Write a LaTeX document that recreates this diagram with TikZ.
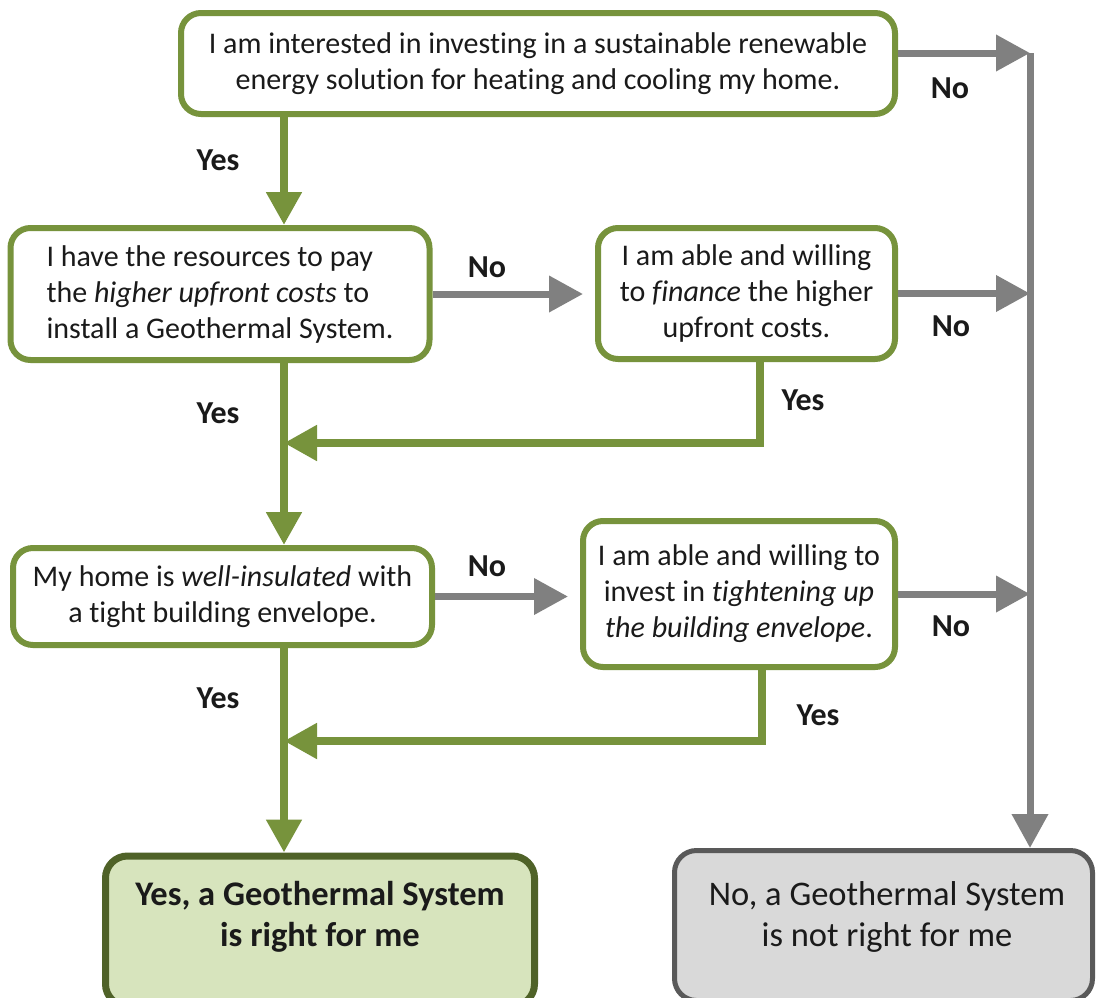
\documentclass[tikz,border=0pt]{standalone}
\usepackage{fontspec}
\setmainfont{Carlito}[Ligatures=NoCommon]
\usetikzlibrary{arrows.meta,calc}
\definecolor{lgreen}{HTML}{77933C}
\definecolor{dgreen}{HTML}{4F6228}
\definecolor{lfill}{HTML}{D7E4BD}
\definecolor{agray}{HTML}{808080}
\definecolor{bgray}{HTML}{595959}
\definecolor{gfill}{HTML}{D9D9D9}
\definecolor{txt}{HTML}{1A1A1A}
\begin{document}
\begin{tikzpicture}[x=1pt,y=-1pt,
  gbox/.style={draw=lgreen, line width=6pt, rounded corners=20pt, fill=white, inner sep=0pt, text=txt, font=\fontsize{30}{36}\selectfont},
  garrow/.style={draw=lgreen, line width=8pt, -{Triangle[length=33pt,width=34pt]}},
  grarrow/.style={draw=agray, line width=7pt, -{Triangle[length=34pt,width=35pt]}},
  lab/.style={font=\fontsize{32}{36}\selectfont\bfseries, text=txt, inner sep=0pt},
  endtxt/.style={text=txt, align=center, inner sep=0pt, font=\fontsize{34.5}{41}\selectfont},
]
\useasboundingbox (0,0) rectangle (1101,997);
\fill[white] (0,0) rectangle (1101,997);
\clip (0,0) rectangle (1101,997);

% coordinates
\coordinate (mx) at (284,0);
\coordinate (rx) at (1030,0);
\coordinate (ty) at (0,53);
\coordinate (fx) at (760,0);
\coordinate (vx) at (762,0);
\coordinate (j1) at (0,443);
\coordinate (j2) at (0,741);

% boxes
\node[gbox, minimum width=714pt, minimum height=101pt, align=center] (top) at (538,63.5)
  {I am interested in investing in a sustainable renewable\\energy solution for heating and cooling my home.};
\node[gbox, minimum width=419pt, minimum height=132pt, align=left] (res) at (220,294)
  {I have the resources to pay\\the \textit{higher upfront costs} to\\install a Geothermal System.};
\node[gbox, minimum width=297pt, minimum height=131pt, align=center] (fin) at (746.5,293.5)
  {I am able and willing\\to \textit{finance} the higher\\upfront costs.};
\node[gbox, minimum width=419pt, minimum height=97pt, align=center] (ins) at (222.5,596.5)
  {My home is \textit{well-insulated} with\\a tight building envelope.};
\node[gbox, minimum width=312pt, minimum height=146pt, align=center] (inv) at (739,594)
  {I am able and willing to\\invest in \textit{tightening up}\\\textit{the building envelope}.};
\node[draw=dgreen, line width=7pt, fill=lfill, rounded corners=22pt, minimum width=429pt, minimum height=150pt] (yes) at (320,931) {};
\node[endtxt, font=\fontsize{34.5}{41}\selectfont\bfseries] (yestxt) at (320,917) {Yes, a Geothermal System\\is right for me};
\node[draw=bgray, line width=5pt, fill=gfill, rounded corners=22pt, minimum width=418pt, minimum height=150pt] (no) at (883.5,925.5) {};
\node[endtxt] (notxt) at (887,917) {No, a Geothermal System\\is not right for me};

% connectors
\draw[garrow] (mx |- top.south) -- (mx |- res.north);
\draw[grarrow, shorten >=12pt] (res.east) -- (res.east -| fin.west);
\draw[grarrow] (fin.east) -- (fin.east -| rx);
\draw[grarrow] (top.east |- ty) -- (rx |- ty);
\draw[grarrow] (rx |- ty) -- (rx |- no.north);
\draw[garrow] (fx |- fin.south) -- (fx |- j1) -- (mx |- j1);
\draw[garrow] (mx |- res.south) -- (mx |- ins.north);
\draw[grarrow, shorten >=12pt] (ins.east) -- (ins.east -| inv.west);
\draw[grarrow] (inv.east) -- (inv.east -| rx);
\draw[garrow] (vx |- inv.south) -- (vx |- j2) -- (mx |- j2);
\draw[garrow] (mx |- ins.south) -- (mx |- yes.north);

% labels
\node[lab] (l1) at (218,160) {Yes};
\node[lab] (l2) at (950,88) {No};
\node[lab] (l3) at (487,267) {No};
\node[lab] (l4) at (218,413) {Yes};
\node[lab] (l5) at (803,400) {Yes};
\node[lab] (l6) at (951,326) {No};
\node[lab] (l7) at (487,566) {No};
\node[lab] (l8) at (951,626) {No};
\node[lab] (l9) at (218,698) {Yes};
\node[lab] (l10) at (818,715) {Yes};
\end{tikzpicture}
\end{document}
